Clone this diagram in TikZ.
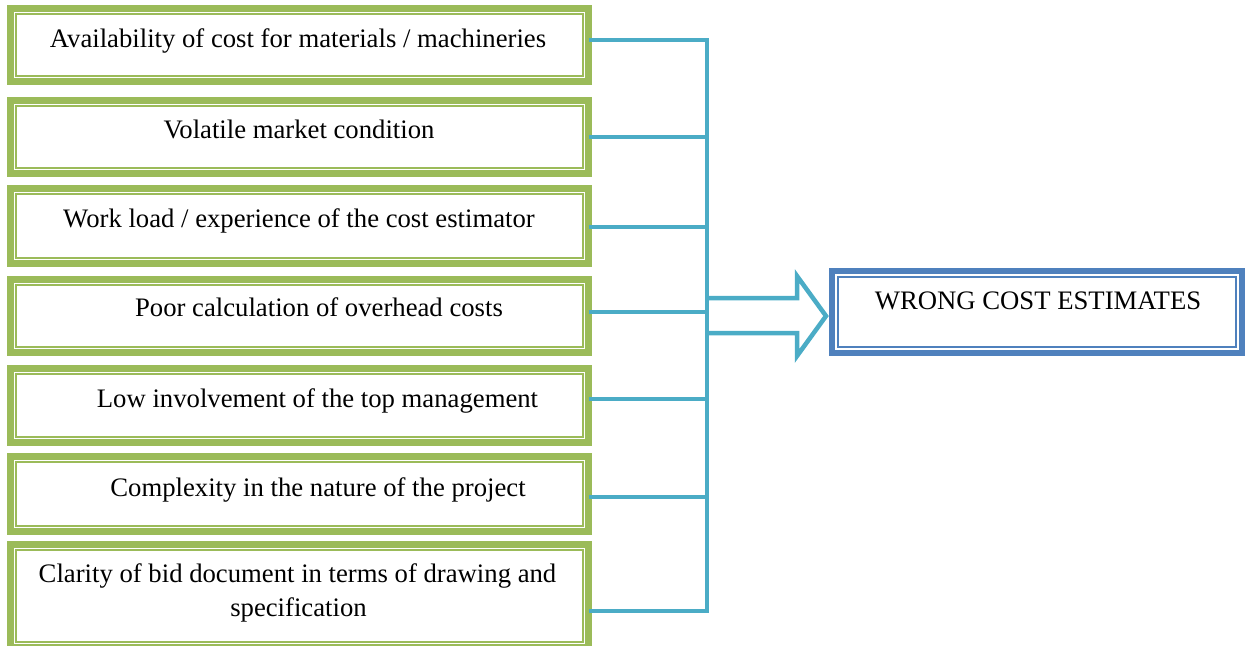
\documentclass[tikz,border=0pt]{standalone}
\usepackage{fontspec}
\setmainfont{Liberation Serif}
\definecolor{gr}{HTML}{9BBB59}
\definecolor{bl}{HTML}{4F81BD}
\definecolor{cy}{HTML}{4BACC6}
\begin{document}
\begin{tikzpicture}[x=1pt,y=-1pt,
  gbox/.style={rectangle, draw=gr, line width=7pt, inner sep=0pt, outer sep=0pt, minimum width=578pt},
  ginner/.style={draw=gr, line width=1.5pt},
  bbox/.style={rectangle, draw=bl, line width=6pt, inner sep=0pt, outer sep=0pt, minimum width=410pt, minimum height=82pt},
  binner/.style={draw=bl, line width=1.5pt},
  conn/.style={draw=cy, line width=4.5pt},
  lbl/.style={anchor=base, inner sep=0pt, font=\fontsize{26.7}{32}\selectfont}]
\useasboundingbox (0,0) rectangle (1246,645);
\clip (0,0) rectangle (1246,645);
% factor boxes
\node[gbox, minimum height=73pt] (b1) at (299.5,45) {};
\node[gbox, minimum height=73pt] (b2) at (299.5,137) {};
\node[gbox, minimum height=75pt] (b3) at (299.5,226) {};
\node[gbox, minimum height=73pt] (b4) at (299.5,316) {};
\node[gbox, minimum height=74pt] (b5) at (299.5,405.5) {};
\node[gbox, minimum height=75pt] (b6) at (299.5,494) {};
\node[gbox, minimum height=103pt] (b7) at (299.5,596) {};
\foreach \b in {b1,b2,b3,b4,b5,b6,b7}
  \draw[ginner] ([xshift=5.5pt,yshift=-5.5pt]\b.north west) rectangle ([xshift=-5.5pt,yshift=5.5pt]\b.south east);
% result box
\node[bbox] (w) at (1037,312) {};
\draw[binner] ([xshift=6pt,yshift=-6pt]w.north west) rectangle ([xshift=-6pt,yshift=6pt]w.south east);
% labels
\node[lbl] (t1) at (298,47) {Availability of cost for materials / machineries};
\node[lbl] (t2) at (299,138) {Volatile market condition};
\node[lbl] (t3) at (299,227) {Work load / experience of the cost estimator};
\node[lbl] (t4) at (319,316) {Poor calculation of overhead costs};
\node[lbl] (t5) at (317.5,407) {Low involvement of the top management};
\node[lbl] (t6) at (318,496) {Complexity in the nature of the project};
\node[lbl] (t7a) at (297.5,582) {Clarity of bid document in terms of drawing and};
\node[lbl] (t7b) at (298.5,616) {specification};
\node[lbl] (tw) at (1038,309) {WRONG COST ESTIMATES};
% connectors
\coordinate (j1) at (707,40);
\coordinate (j2) at (707,137);
\coordinate (j3) at (707,227);
\coordinate (j4) at (707,312);
\coordinate (j5) at (707,399);
\coordinate (j6) at (707,497);
\coordinate (j7) at (707,611);
\draw[conn] (b1.east |- j1) -- (j1) -- (j7) -- (b7.east |- j7);
\foreach \i in {2,...,6}
  \draw[conn] (b\i.east |- j\i) -- (j\i);
% block arrow
\coordinate (a0) at (707,298);
\coordinate (a6) at (707,333);
\draw[conn, line join=miter] (a0) -- (797,298) -- (797,276) -- (826,316) -- (797,356) -- (797,333) -- (a6);
\end{tikzpicture}
\end{document}
